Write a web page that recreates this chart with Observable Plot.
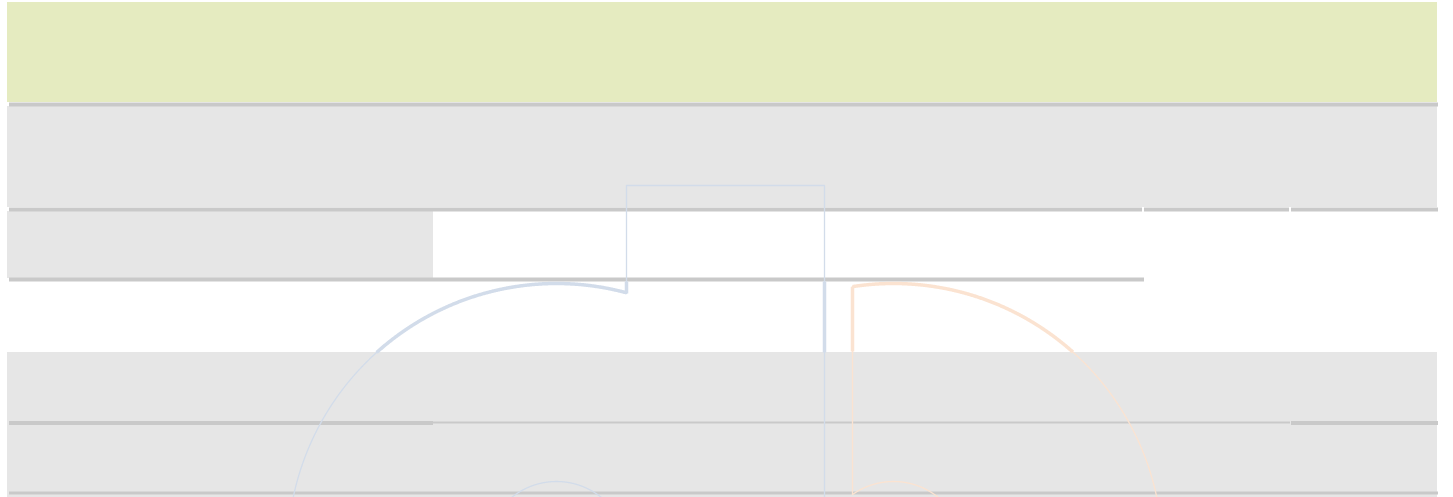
<!DOCTYPE html>
<html><head><meta charset="utf-8">
<script src="https://cdn.jsdelivr.net/npm/d3@7"></script>
<script src="https://cdn.jsdelivr.net/npm/@observablehq/plot@0.6"></script>
<style>html,body{margin:0;padding:0;background:#fff;overflow:hidden}</style>
</head><body><div id="chart"></div>
<script>
// Bands (data-space extents on identity linear scales)
const bandKind   = ["head", "body", "body", "body"];
const bandStart  = [7, 7, 7, 7];
const bandEnd    = [1437, 1437, 433, 1437];
const bandTop    = [2, 106, 211, 352];
const bandBottom = [102, 207, 278, 497];

// Separator rules
const ruleGroup = ["heavy","heavy","heavy","heavy","heavy","heavy","light","heavy","mid"];
const ruleLevel = [104, 209, 209, 209, 279, 422.5, 422, 422.5, 492.5];
const ruleStart = [9, 9, 1144, 1291, 9, 9, 433, 1291, 9];
const ruleEnd   = [1438, 1142, 1289, 1438, 1144, 433, 1290, 1438, 1438];

// Ring slices
const sliceName    = ["series A", "series B"];
const sliceCenterX = [556, 893];
const sliceCenterY = [552, 552];
const sliceOuter   = [269, 269];
const sliceInner   = [71, 71];
const sliceOuterFrom = [-80, -8.77];   // degrees, clockwise from 12 o'clock
const sliceOuterTo   = [15.08, 80];
const sliceInnerFrom = [-60, -35.3];
const sliceInnerTo   = [60, 60];
const sliceEdgeX     = [null, 852];

// Bracket box outline (series A)
const boxLeft = 626, boxRight = 824, boxTop = 185, boxLeftEnd = 293, boxRightEnd = 497;

// Emphasis interval (strokes drawn heavy in this vertical range)
const emphTop = 281, emphBottom = 352;

const bands = bandKind.map((k, i) => ({kind: k, start: bandStart[i], end: bandEnd[i], top: bandTop[i], bottom: bandBottom[i]}));
const rules = ruleGroup.map((g, i) => ({group: g, level: ruleLevel[i], start: ruleStart[i], end: ruleEnd[i]}));

function arcPts(id, cx, cy, r, a0, a1, n = 600) {
  const out = [];
  for (let k = 0; k <= n; k++) {
    const a = (a0 + (a1 - a0) * k / n) * Math.PI / 180;
    out.push({id, x: cx + r * Math.sin(a), y: cy - r * Math.cos(a)});
  }
  return out;
}
function segPts(id, pts) {
  const out = [];
  for (let i = 0; i < pts.length - 1; i++) {
    const [x0, y0] = pts[i], [x1, y1] = pts[i + 1];
    const n = Math.max(1, Math.ceil(Math.hypot(x1 - x0, y1 - y0)));
    for (let k = (i === 0 ? 0 : 1); k <= n; k++) out.push({id, x: x0 + (x1 - x0) * k / n, y: y0 + (y1 - y0) * k / n});
  }
  return out;
}

const paths = [];
sliceName.forEach((s, i) => {
  paths.push({series: s, pts: arcPts(s + "-outer", sliceCenterX[i], sliceCenterY[i], sliceOuter[i], sliceOuterFrom[i], sliceOuterTo[i])});
  paths.push({series: s, pts: arcPts(s + "-inner", sliceCenterX[i], sliceCenterY[i], sliceInner[i], sliceInnerFrom[i], sliceInnerTo[i])});
  if (sliceEdgeX[i] != null) {
    const ex = sliceEdgeX[i], dx = ex - sliceCenterX[i];
    const yO = sliceCenterY[i] - Math.sqrt(sliceOuter[i] ** 2 - dx * dx);
    const yI = sliceCenterY[i] - Math.sqrt(sliceInner[i] ** 2 - dx * dx);
    paths.push({series: s, pts: segPts(s + "-edge", [[ex, yO], [ex, yI]])});
  }
});
paths.push({series: sliceName[0], pts: segPts("box", [[boxLeft, boxLeftEnd], [boxLeft, boxTop], [boxRight, boxTop], [boxRight, boxRightEnd]])});

const thin = [], thick = [];
paths.forEach(p => {
  p.pts.forEach(d => thin.push({...d, series: p.series}));
  let run = 0;
  p.pts.forEach((d, j) => {
    if (d.y >= emphTop && d.y <= emphBottom) {
      if (j === 0 || !(p.pts[j-1].y >= emphTop && p.pts[j-1].y <= emphBottom)) run++;
      thick.push({...d, id: d.id + "-" + run, series: p.series});
    }
  });
});

const chart = Plot.plot({
  width: 1453, height: 497, margin: 0,
  x: {domain: [0, 1453], range: [0, 1453], axis: null},
  y: {domain: [0, 497], range: [0, 497], axis: null},
  color: {type: "ordinal", domain: sliceName, range: ["#d2dcea", "#fbe3d1"]},
  marks: [
    Plot.rect(bands, {x1: "start", x2: "end", y1: "top", y2: "bottom", fill: d => d.kind === "head" ? "#e5ebc0" : "#e6e6e6"}),
    Plot.ruleY(rules.filter(d => d.group === "heavy"), {y: "level", x1: "start", x2: "end", stroke: "#c9c9c9", strokeWidth: 4}),
    Plot.ruleY(rules.filter(d => d.group === "mid"), {y: "level", x1: "start", x2: "end", stroke: "#c9c9c9", strokeWidth: 3}),
    Plot.ruleY(rules.filter(d => d.group === "light"), {y: "level", x1: "start", x2: "end", stroke: "#c9c9c9", strokeWidth: 2}),
    Plot.line(thin, {x: "x", y: "y", z: "id", stroke: {value: "series", scale: "color"}, strokeWidth: 1.3}),
    Plot.line(thick, {x: "x", y: "y", z: "id", stroke: {value: "series", scale: "color"}, strokeWidth: 3.5, strokeLinecap: "butt", strokeLinejoin: "miter"})
  ]
});
document.getElementById("chart").appendChild(chart);
</script>
</body></html>
